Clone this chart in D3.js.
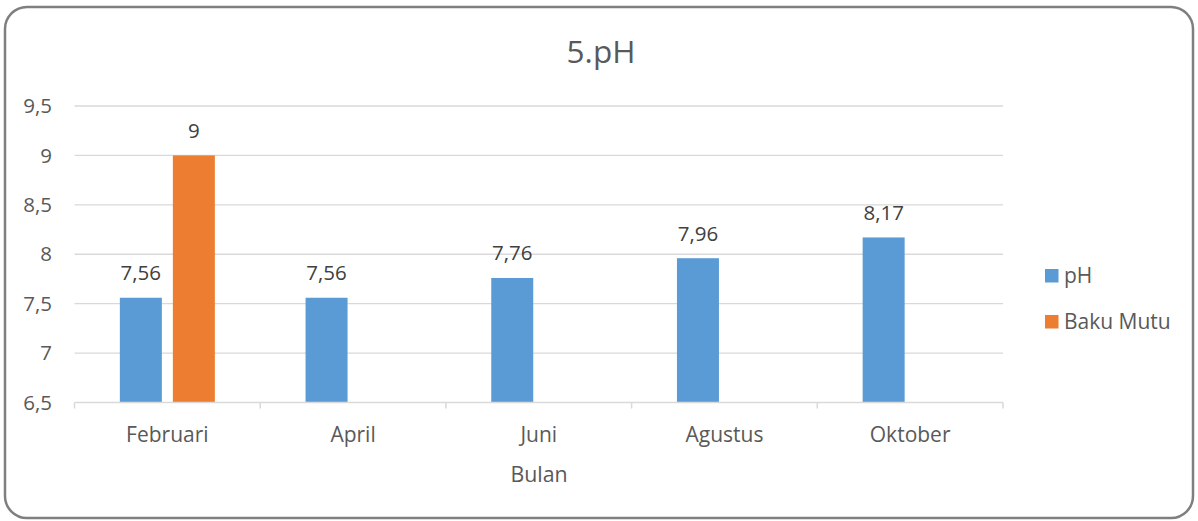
<!DOCTYPE html>
<html><head><meta charset="utf-8">
<script src="https://cdn.jsdelivr.net/npm/d3@7"></script>
<style>body{margin:0;background:#fff}svg{display:block;font-family:"Open Sans",sans-serif}</style>
</head><body><svg id="c" width="1198" height="521"></svg>
<script>
const categories = ["Februari","April","Juni","Agustus","Oktober"];
const seriesNames = ["pH","Baku Mutu"];
const phValues = [7.56,7.56,7.76,7.96,8.17];
const bakuMutuValues = [9,null,null,null,null];
const yTicks = [6.5,7,7.5,8,8.5,9,9.5];
const colors = ["#5b9bd5","#ed7d31"];
const title = "5.pH";
const xTitle = "Bulan";

const svg = d3.select("#c");
const fmt = v => String(v).replace(".", ",");
svg.append("rect").attr("x",5).attr("y",7).attr("width",1188).attr("height",511)
  .attr("rx",22).attr("fill","#fff").attr("stroke","#7f7f7f").attr("stroke-width",2.5);

const L=74.5,R=1003,T=106,B=402.5;
const x = d3.scaleBand().domain(categories).range([L,R]);
const y = d3.scaleLinear().domain([6.5,9.5]).range([B,T]);
const bandW = x.bandwidth();
const barW = 42, gap = 11;
const inner = d3.scaleOrdinal().domain(seriesNames).range([bandW/2 - barW - gap/2, bandW/2 + gap/2]);

// grid
svg.append("g").selectAll("line").data(yTicks.filter(t=>t>6.5)).join("line")
  .attr("x1",L).attr("x2",R).attr("y1",d=>y(d)).attr("y2",d=>y(d))
  .attr("stroke","#d9d9d9").attr("stroke-width",1.3);
// y labels
svg.append("g").selectAll("text").data(yTicks).join("text")
  .attr("x",52).attr("y",d=>y(d)).attr("dy","0.35em").attr("text-anchor","end")
  .attr("font-size",20.5).attr("fill","#595959").text(d=>fmt(d));

const series = [phValues, bakuMutuValues];
series.forEach((vals,si)=>{
  const g = svg.append("g");
  const data = categories.map((c,i)=>({c,v:vals[i]})).filter(d=>d.v!=null);
  g.selectAll("rect").data(data).join("rect")
    .attr("x",d=>x(d.c)+inner(seriesNames[si])).attr("width",barW)
    .attr("y",d=>y(d.v)).attr("height",d=>B-y(d.v)).attr("fill",colors[si]);
  g.selectAll("text").data(data).join("text")
    .attr("x",d=>x(d.c)+inner(seriesNames[si])+barW/2).attr("y",d=>y(d.v)-17.5)
    .attr("text-anchor","middle").attr("font-size",20.5).attr("fill","#404040").text(d=>fmt(d.v));
});

// x axis
const xa = svg.append("g");
xa.append("line").attr("x1",L).attr("x2",R).attr("y1",B).attr("y2",B).attr("stroke","#d9d9d9").attr("stroke-width",1.5);
const edges = categories.map(c=>x(c)).concat([R]);
xa.selectAll("line.t").data(edges).join("line").attr("class","t")
  .attr("x1",d=>d).attr("x2",d=>d).attr("y1",B).attr("y2",B+6).attr("stroke","#d9d9d9").attr("stroke-width",1.5);
xa.selectAll("text").data(categories).join("text")
  .attr("x",d=>x(d)+bandW/2).attr("y",442).attr("text-anchor","middle")
  .attr("font-size",21).attr("fill","#595959").text(d=>d);

svg.append("text").attr("x",539).attr("y",481.5).attr("text-anchor","middle")
  .attr("font-size",21.3).attr("fill","#595959").text(xTitle);
svg.append("text").attr("x",601).attr("y",63).attr("text-anchor","middle")
  .attr("font-size",31.5).attr("fill","#595959").text(title);

// legend
const lg = svg.append("g");
seriesNames.forEach((n,i)=>{
  const yy = 269 + i*46;
  lg.append("rect").attr("x",1045).attr("y",yy).attr("width",13.5).attr("height",13.5).attr("fill",colors[i]);
  lg.append("text").attr("x",1064).attr("y",yy+14).attr("font-size",21).attr("fill","#595959").text(n);
});
</script></body></html>
